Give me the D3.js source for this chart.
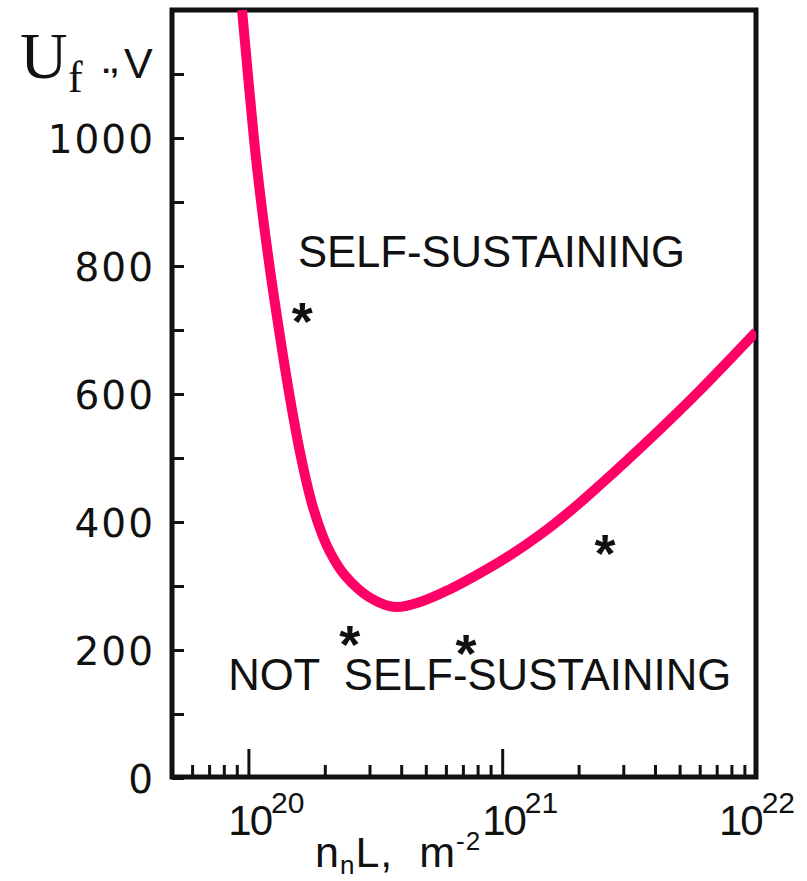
<!DOCTYPE html>
<html>
<head>
<meta charset="utf-8">
<script src="https://cdn.jsdelivr.net/npm/d3@7"></script>
<style>
body { margin:0; background:#fff; }
</style>
</head>
<body>
<script>
// DATA

// breakdown curve, n_n*L (m^-2) against U_f (V)
var curve_nl = [9.44e19, 9.92e19, 1.051e20, 1.126e20, 1.211e20, 1.32e20, 1.452e20, 1.597e20, 1.765e20, 1.968e20, 2.256e20, 2.679e20,
				3.242e20, 3.851e20, 4.75e20, 6.23e20, 8.18e20, 1.074e21, 1.409e21, 1.851e21, 2.429e21, 3.823e21, 6.017e21, 1.0e22];
var curve_u = [1200, 1106, 1000, 895, 800, 700, 598, 509, 434, 377, 331, 297,
				275, 267, 275, 295, 320, 348, 380, 417, 458, 530, 606, 697];

// asterisk marks
var star_nl = [1.63e20, 2.54e21, 2.51e20, 7.2e20];
var star_u = [734, 372, 230, 216];

// ticks
var y_major_ticks = [0, 200, 400, 600, 800, 1000];
var y_minor_ticks = [100, 300, 500, 700, 900, 1100];
var x_major_ticks = [1e20, 1e21];
var x_minor_ticks = [6e19, 7e19, 8e19, 9e19, 2e20, 3e20, 4e20, 5e20, 6e20, 7e20, 8e20, 9e20,
					2e21, 3e21, 4e21, 5e21, 6e21, 7e21, 8e21, 9e21];
var x_label_values = [1e20, 1e21, 1e22];
var x_label_exponents = ["20", "21", "22"];

// region labels
var region_labels = [
	{"text":"SELF-SUSTAINING", "nl":1.567e20, "u":798, "len":387},
	{"text":"NOT  SELF-SUSTAINING", "nl":8.32e19, "u":137, "len":503}
];

// SETUP

var width = 807, height = 881;
var left = 172, right = 756, top_y = 10, bottom = 777;
var sans = "'Liberation Sans', Arial, sans-serif";
var serif = "'Liberation Serif', 'Times New Roman', serif";

var svg = d3.select("body").append("svg")
			.attr("width", width)
			.attr("height", height)
			.style("font-family", sans);

var x = d3.scaleLog().domain([5e19, 1e22]).range([left, right]);
var y = d3.scaleLinear().domain([0, 1200]).range([778, top_y]);

svg.append("clipPath").attr("id","plot_clip")
	.append("rect")
	.attr("x", left).attr("y", top_y)
	.attr("width", right-left).attr("height", bottom-top_y);

// AXES

var y_axis_major = svg.append("g")
	.attr("transform","translate("+left+",0)")
	.call(d3.axisLeft(y).tickValues(y_major_ticks).tickSize(-12).tickPadding(17).tickFormat(d3.format("d")));
var y_axis_minor = svg.append("g")
	.attr("transform","translate("+left+",0)")
	.call(d3.axisLeft(y).tickValues(y_minor_ticks).tickSize(-12).tickFormat(""));

var x_axis_major = svg.append("g")
	.attr("transform","translate(0,"+bottom+")")
	.call(d3.axisBottom(x).tickValues(x_major_ticks).tickSize(-28).tickFormat(""));
var x_axis_minor = svg.append("g")
	.attr("transform","translate(0,"+bottom+")")
	.call(d3.axisBottom(x).tickValues(x_minor_ticks).tickSize(-12).tickFormat(""));

svg.selectAll(".domain").remove();
svg.selectAll(".tick line").attr("stroke","#111").attr("stroke-width",3);

y_axis_major.selectAll("text")
	.style("font-family","'DejaVu Sans', sans-serif")
	.attr("font-size",39)
	.attr("letter-spacing",2)
	.attr("dy","0.36em")
	.attr("fill","#111");

// frame
svg.append("rect")
	.attr("x", left).attr("y", top_y)
	.attr("width", right-left).attr("height", bottom-top_y)
	.attr("fill","none")
	.attr("stroke","#111")
	.attr("stroke-width",5);

// x tick labels 10^n
var x_labels = svg.append("g").selectAll("text")
	.data(x_label_values)
	.enter()
	.append("text")
	.attr("x", function(d){return x(d)+18})
	.attr("y", 835)
	.attr("text-anchor","middle")
	.attr("fill","#111");
x_labels.append("tspan")
	.attr("font-size",42)
	.attr("letter-spacing",-2)
	.text("10");
x_labels.append("tspan")
	.attr("font-size",30)
	.attr("dy",-22)
	.text(function(d,i){return x_label_exponents[i]});
x_labels.each(function(){
	var b = this.getBBox();
	if (b.x+b.width > width-12) {
		d3.select(this).attr("x", +d3.select(this).attr("x") - (b.x+b.width-(width-12)));
	}
});

// x axis title
var x_title = svg.append("text")
	.attr("x",315).attr("y",867)
	.attr("font-size",43)
	.attr("letter-spacing",1)
	.attr("fill","#111")
	.style("white-space","pre");
x_title.append("tspan").text("n");
x_title.append("tspan").attr("font-size",26).attr("dy",7).text("n");
x_title.append("tspan").attr("dy",-7).text("L,  m");
x_title.append("tspan").attr("font-size",26).attr("dy",-17).text("-2");

// y axis title
svg.append("text").attr("x",20).attr("y",78)
	.style("font-family", serif)
	.attr("font-size",66).attr("fill","#111").text("U");
svg.append("text").attr("x",68).attr("y",92)
	.style("font-family", serif)
	.attr("font-size",44).attr("fill","#111").text("f");
svg.append("text").attr("x",102).attr("y",73)
	.attr("font-size",30).attr("font-weight","bold").attr("fill","#111").text(".,");
svg.append("text").attr("x",124).attr("y",78)
	.attr("font-size",43).attr("fill","#111").text("V");

// CURVE

var line = d3.line()
	.x(function(d){return x(d[0])})
	.y(function(d){return y(d[1])})
	.curve(d3.curveMonotoneX);

svg.append("path")
	.datum(d3.zip(curve_nl, curve_u))
	.attr("clip-path","url(#plot_clip)")
	.attr("d", line)
	.attr("fill","none")
	.attr("stroke","#ff0066")
	.attr("stroke-width",10);

// REGION LABELS AND STARS

svg.append("g").selectAll("text")
	.data(region_labels)
	.enter()
	.append("text")
	.attr("x", function(d){return x(d.nl)})
	.attr("y", function(d){return y(d.u)})
	.attr("font-size",45)
	.attr("fill","#111")
	.attr("textLength", function(d){return d.len})
	.attr("lengthAdjust","spacingAndGlyphs")
	.style("white-space","pre")
	.text(function(d){return d.text});

svg.append("g").selectAll("text")
	.data(d3.zip(star_nl, star_u))
	.enter()
	.append("text")
	.attr("x", function(d){return x(d[0])})
	.attr("y", function(d){return y(d[1])+32})
	.attr("text-anchor","middle")
	.attr("font-size",54)
	.attr("font-weight","bold")
	.attr("fill","#111")
	.text("*");
</script>
</body>
</html>
